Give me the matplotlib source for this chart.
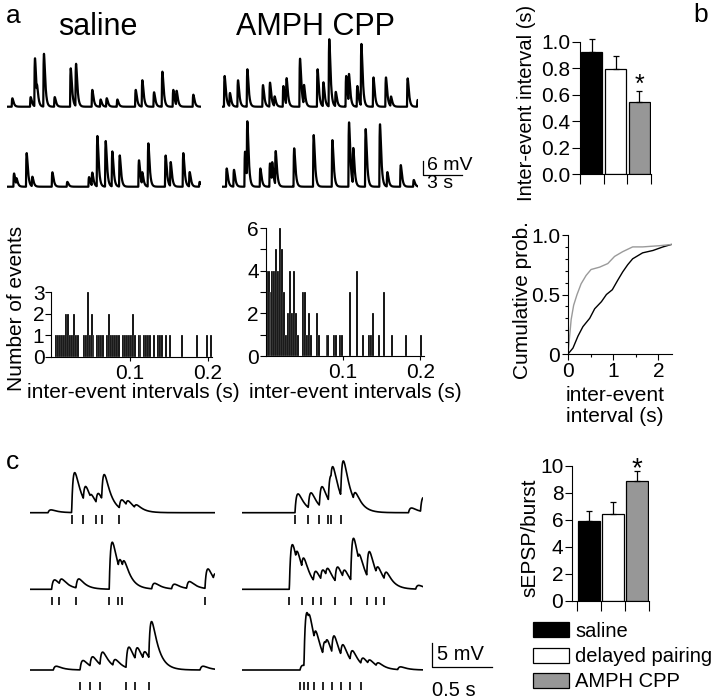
import numpy as np
import matplotlib
matplotlib.use("Agg")
import matplotlib.pyplot as plt
from matplotlib.patches import Patch
from matplotlib.ticker import MultipleLocator

plt.rcParams['font.family'] = ['Liberation Sans', 'DejaVu Sans']
plt.rcParams['font.size'] = 15
plt.rcParams['axes.linewidth'] = 0.8

W, H = 720, 699

# ---- a: spontaneous recordings, event times (s) and peak amplitudes (mV)
SAL1_T = [0.36, 1.77, 2.10, 2.28, 2.79, 3.62, 4.85, 5.26, 6.51, 7.15, 7.62, 8.44,
          9.85, 10.36, 11.26, 11.90, 12.74, 13.0, 14.28]
SAL1_A = [3.5, 4, 20, 4, 22, 4, 16, 17.6, 7, 3, 3.5, 3, 7, 11, 6, 14.6, 7, 6, 5]
SAL2_T = [0.49, 0.69, 1.46, 1.9, 3.44, 4.59, 6.26, 6.51, 6.9, 7.54, 8.05, 8.62,
          10.1, 10.36, 10.82, 12.15, 12.54, 13.51, 14.0, 14.77]
SAL2_A = [5.5, 2.5, 14, 4, 6, 2, 4, 5.5, 21, 19, 14.6, 13, 11, 5, 18, 13, 10, 14, 6, 2]
AMPH1_T = [0.15, 0.56, 1.18, 1.9, 3.1, 3.64, 4.0, 4.67, 4.92, 5.95, 6.26, 7.3,
           7.75, 8.2, 8.7, 9.5, 9.72, 10.36, 10.67, 11.6, 12.56, 12.95, 14.23, 15.0]
AMPH1_A = [12.8, 5.5, 11, 15.6, 9, 10, 4, 8.6, 11, 20, 8, 15.6, 10, 28, 6, 12.8,
           11.8, 8.6, 25.7, 12.2, 12.2, 4, 11.8, 2.8]
AMPH2_T = [0.31, 0.87, 1.72, 1.9, 2.9, 3.64, 3.82, 4.08, 5.5, 7.0, 8.44, 9.72,
           10.05, 11.0, 12.1, 12.67, 13.7, 14.7]
AMPH2_A = [7.6, 7, 14.6, 24, 7.6, 9.7, 8, 14, 16, 21.5, 19.4, 26.8, 15, 24, 26, 6, 9, 2.8]

# ---- a: inter-event interval histograms (bin width 2.5 ms, counts per bin)
BIN_W = 0.0025
SAL_COUNTS = [0, 0, 1, 1, 1, 1, 1, 2, 2, 1, 1, 2, 1, 1, 0, 0, 1, 1, 3, 1,
              2, 1, 0, 1, 1, 1, 1, 0, 1, 2, 1, 1, 1, 1, 1, 0, 1, 1, 1, 1,
              1, 2, 1, 0, 1, 1, 0, 1, 1, 1, 1, 0, 1, 0, 1, 1, 1, 0, 1, 0,
              1, 0, 0, 0, 0, 0, 1, 0, 0, 0, 0, 0, 0, 0, 1, 0, 0, 0, 0, 1,
              0, 1]
AMPH_COUNTS = [4, 4, 3, 4, 4, 5, 4, 6, 5, 3, 1, 2, 4, 2, 4, 2, 1, 0, 0, 3,
               3, 1, 2, 1, 0, 0, 2, 1, 0, 0, 0, 1, 1, 0, 0, 1, 1, 0, 1, 1,
               0, 0, 0, 3, 0, 0, 0, 4, 0, 0, 1, 0, 0, 1, 1, 2, 0, 0, 1, 0,
               0, 3, 0, 0, 0, 1, 0, 0, 0, 0, 0, 0, 1, 0, 0, 0, 0, 0, 0, 0,
               1, 0]

# ---- b: group data
GROUPS = ['saline', 'delayed pairing', 'AMPH CPP']
GROUP_COLORS = ['black', 'white', '#979797']
IEI_MEAN = [0.92, 0.795, 0.545]
IEI_SEM = [0.10, 0.095, 0.085]
CUM_X = [0, 0.07, 0.125, 0.2, 0.29, 0.40, 0.51, 0.70, 0.88, 1.03, 1.21, 1.43,
         1.65, 2.02, 2.28]
CUM_AMPH = [0, 0.29, 0.41, 0.50, 0.59, 0.66, 0.71, 0.73, 0.76, 0.82, 0.86, 0.90,
            0.90, 0.91, 0.92]
CUM_X2 = [0, 0.11, 0.22, 0.33, 0.48, 0.59, 0.74, 0.85, 0.98, 1.10, 1.21, 1.32,
          1.43, 1.65, 1.88, 2.1, 2.28]
CUM_SAL = [0, 0.05, 0.15, 0.23, 0.30, 0.38, 0.44, 0.50, 0.54, 0.62, 0.69, 0.75,
           0.80, 0.85, 0.87, 0.90, 0.92]

# ---- c: bursts, event times (s), amplitudes (mV), detected sEPSP marks (s)
C_L1_T = [0.15, 0.347, 0.444, 0.50, 0.55, 0.597, 0.744, 0.80, 0.87]
C_L1_A = [0.6, 8.5, 3.5, 1.0, 2.5, 6.0, 2.0, 1.2, 0.8]
C_L1_MARKS = [0.347, 0.444, 0.55, 0.597, 0.744]
C_L2_T = [0.18, 0.244, 0.383, 0.66, 0.736, 0.77, 1.014, 1.18, 1.305, 1.458, 1.528]
C_L2_A = [2.0, 1.3, 2.0, 10.0, 2.5, 2.0, 1.2, 1.0, 1.5, 4.2, 1.5]
C_L2_MARKS = [0.18, 0.244, 0.383, 0.66, 0.736, 0.77, 1.458]
C_L3_T = [0.194, 0.417, 0.5, 0.583, 0.69, 0.8, 0.875, 0.94, 0.99, 1.417]
C_L3_A = [0.8, 2.0, 2.2, 3.0, 1.5, 4.5, 3.0, 2.0, 8.5, 0.8]
C_L3_MARKS = [0.417, 0.5, 0.583, 0.8, 0.875, 0.99]
C_R1_T = [0.444, 0.555, 0.647, 0.722, 0.744, 0.825, 0.93, 1.39, 1.49]
C_R1_A = [4.0, 3.5, 4.5, 6.0, 3.0, 8.5, 2.0, 1.0, 3.0]
C_R1_MARKS = [0.444, 0.555, 0.647, 0.722, 0.744, 0.825]
C_R2_T = [0.397, 0.45, 0.5, 0.597, 0.658, 0.70, 0.778, 0.84, 0.908, 0.97, 1.042,
          1.119, 1.186, 1.45]
C_R2_A = [9.5, 2.5, 3.0, 2.5, 2.5, 2.0, 3.5, 2.0, 9.5, 2.0, 6.0, 2.0, 2.0, 0.8]
C_R2_MARKS = [0.397, 0.5, 0.597, 0.658, 0.778, 0.908, 1.042, 1.119, 1.186]
C_R3_T = [0.486, 0.519, 0.555, 0.603, 0.675, 0.70, 0.75, 0.825, 0.903, 0.992,
          1.05, 1.12, 1.3]
C_R3_A = [1.0, 11.5, 2.0, 3.0, 3.5, 1.5, 4.5, 3.0, 2.5, 1.5, 1.0, 0.8, 0.6]
C_R3_MARKS = [0.486, 0.519, 0.555, 0.603, 0.675, 0.75, 0.825, 0.903, 0.992]

EPSP_PER_BURST = [5.9, 6.43, 8.89]
EPSP_SEM = [0.78, 0.9, 0.74]


fig = plt.figure(figsize=(W / 100, H / 100), dpi=100)


def px_axes(x0, y0, x1, y1):
    """Axes from pixel box (top-left origin)."""
    ax = fig.add_axes([x0 / W, 1 - y1 / H, (x1 - x0) / W, (y1 - y0) / H])
    ax.set_facecolor('none')
    return ax


def px_text(x, y, s, **kw):
    kw.setdefault('ha', 'center')
    kw.setdefault('va', 'center')
    fig.text(x / W, 1 - y / H, s, **kw)


def epsp_sum(t, times, amps, tr, td):
    tp = tr * td / (td - tr) * np.log(td / tr)
    norm = np.exp(-tp / td) - np.exp(-tp / tr)
    v = np.zeros_like(t)
    for ti, a in zip(times, amps):
        dt = t - ti
        m = dt > 0
        v[m] += a * (np.exp(-dt[m] / td) - np.exp(-dt[m] / tr)) / norm
    return v


def trace_axes(x0, base_y, dur, px_s, px_mv, lo, hi):
    ax = px_axes(x0, base_y - hi * px_mv, x0 + dur * px_s, base_y - lo * px_mv)
    ax.set_xlim(0, dur)
    ax.set_ylim(lo, hi)
    ax.axis('off')
    return ax


def style_spines(ax):
    ax.spines['top'].set_visible(False)
    ax.spines['right'].set_visible(False)


# ---------------- panel a traces ----------------
A_PXS, A_PXMV = 13.0, 2.4
for x0, dur, rows in [(7, 14.9, [(106.7, SAL1_T, SAL1_A), (186.7, SAL2_T, SAL2_A)]),
                      (222, 15.1, [(106.7, AMPH1_T, AMPH1_A), (186.7, AMPH2_T, AMPH2_A)])]:
    for base, tt, aa in rows:
        ax = trace_axes(x0, base, dur, A_PXS, A_PXMV, -3, 32)
        t = np.arange(0, dur, 0.005)
        ax.plot(t, epsp_sum(t, tt, aa, 0.035, 0.09), color='black', lw=1.6)
        last = ax

# scale bar (6 mV, 3 s) beside the AMPH trace
last.plot([15.44, 15.44, 18.44], [10.7, 4.7, 4.7], color='black', lw=0.9, clip_on=False)
last.text(15.8, 9.0, '6 mV', fontsize=14, ha='left', va='center', clip_on=False)
last.text(15.8, 1.2, '3 s', fontsize=14, ha='left', va='center', clip_on=False)

px_text(13, 16, 'a', fontsize=19)
px_text(98, 27, 'saline', fontsize=22)
px_text(315, 27, 'AMPH CPP', fontsize=22)

# ---------------- panel a histograms ----------------
for (x0, y0, x1, y1), counts, ymax, ymaj in [((51.4, 292, 212, 357), SAL_COUNTS, 3, 1),
                                             ((265.7, 228, 424, 356), AMPH_COUNTS, 6, 2)]:
    ax = px_axes(x0, y0, x1, y1)
    c = np.array(counts)
    left = np.arange(len(c)) * BIN_W
    keep = c > 0
    ax.bar(left[keep], c[keep], width=BIN_W, align='edge', color='black',
           edgecolor='white', linewidth=0.15)
    ax.set_xlim(0, 0.205)
    ax.set_ylim(0, ymax)
    ax.set_xticks([0.1, 0.2], ['0.1', '0.2'])
    ax.yaxis.set_major_locator(MultipleLocator(ymaj))
    ax.yaxis.set_minor_locator(MultipleLocator(1))
    ax.tick_params(axis='y', which='both', length=4, width=0.8, pad=1, labelsize=15)
    ax.tick_params(axis='x', length=3, width=0.8, pad=2, labelsize=15)
    style_spines(ax)
    for s in ax.spines.values():
        s.set_zorder(5)

px_text(133, 393, 'inter-event intervals (s)', fontsize=15)
px_text(355, 393, 'inter-event intervals (s)', fontsize=15)
px_text(17, 308, 'Number of events', fontsize=15, rotation=90)

# ---------------- panel b: mean inter-event interval ----------------
ax = px_axes(580, 41.7, 651, 174.3)
xs = np.arange(len(GROUPS))
ax.bar(xs, IEI_MEAN, width=0.9, color=GROUP_COLORS, edgecolor='black', linewidth=0.9)
ax.errorbar(xs, IEI_MEAN, yerr=[np.zeros(3), IEI_SEM], fmt='none', ecolor='black',
            elinewidth=0.9, capsize=2.5, capthick=0.9, clip_on=False)
ax.text(2, 0.625, '*', fontsize=18, ha='center', va='baseline')
ax.set_xlim(-0.5, 2.5)
ax.set_ylim(0, 1.0)
ax.set_xticks([-0.5, 0.5, 1.5, 2.5], [])
ax.set_yticks(np.arange(0, 1.01, 0.2), ['0.0', '0.2', '0.4', '0.6', '0.8', '1.0'])
ax.tick_params(axis='x', length=7, width=0.8)
ax.tick_params(axis='y', length=6, width=0.8, pad=1, labelsize=15)
style_spines(ax)
px_text(701, 15, 'b', fontsize=19)
px_text(526, 103, 'Inter-event interval (s)', fontsize=14.5, rotation=90)

# ---------------- panel b: cumulative distributions ----------------
ax = px_axes(568, 235, 672, 354)
ax.plot(CUM_X2, CUM_SAL, color='black', lw=1.0)
ax.plot(CUM_X, CUM_AMPH, color='#9a9a9a', lw=1.0)
ax.set_xlim(0, 2.3)
ax.set_ylim(0, 1.0)
ax.set_xticks([0, 1, 2], ['0', '1', '2'])
ax.set_yticks([0, 0.5, 1.0], ['0', '0.5', '1.0'])
ax.xaxis.set_minor_locator(MultipleLocator(0.5))
ax.yaxis.set_minor_locator(MultipleLocator(0.1))
ax.tick_params(which='major', length=4, width=0.8, pad=1.5, labelsize=15)
ax.tick_params(which='minor', length=2.5, width=0.8)
style_spines(ax)
px_text(522, 300, 'Cumulative prob.', fontsize=15, rotation=90)
px_text(615, 406, 'inter-event\ninterval (s)', fontsize=15, linespacing=1.15)

# ---------------- panel c traces ----------------
C_PXS, C_PXMV = 120.0, 4.7
MARK_TOP = [-0.5, -1.6, -2.5]
MARK_LEN = 1.8
c_cols = [(30, 1.54, [(C_L1_T, C_L1_A, C_L1_MARKS), (C_L2_T, C_L2_A, C_L2_MARKS),
                      (C_L3_T, C_L3_A, C_L3_MARKS)]),
          (241.7, 1.51, [(C_R1_T, C_R1_A, C_R1_MARKS), (C_R2_T, C_R2_A, C_R2_MARKS),
                         (C_R3_T, C_R3_A, C_R3_MARKS)])]
for x0, dur, rows in c_cols:
    for r, (base, (tt, aa, mk)) in enumerate(zip([512.7, 589.3, 670.0], rows)):
        ax = trace_axes(x0, base, dur, C_PXS, C_PXMV, -6, 15)
        t = np.arange(0, dur, 0.002)
        ax.plot(t, epsp_sum(t, tt, aa, 0.014, 0.055), color='black', lw=1.2)
        ax.vlines(mk, MARK_TOP[r] - MARK_LEN, MARK_TOP[r], color='black', lw=1.2)
        last = ax

# scale bar (5 mV, 0.5 s)
last.plot([1.583, 1.583, 2.083], [5.7, 0.7, 0.7], color='black', lw=0.9, clip_on=False)
last.text(1.627, 3.2, '5 mV', fontsize=14.5, ha='left', va='center', clip_on=False)
last.text(1.587, -4.3, '0.5 s', fontsize=14.5, ha='left', va='center', clip_on=False)
px_text(13, 462, 'c', fontsize=19)

# ---------------- panel c: sEPSP per burst ----------------
ax = px_axes(571.7, 465.7, 649, 601)
ax.bar(xs, EPSP_PER_BURST, width=0.92, color=GROUP_COLORS, edgecolor='black', linewidth=0.9)
ax.errorbar(xs, EPSP_PER_BURST, yerr=[np.zeros(3), EPSP_SEM], fmt='none', ecolor='black',
            elinewidth=0.9, capsize=2.5, capthick=0.9, clip_on=False)
ax.text(2, 9.25, '*', fontsize=20, ha='center', va='baseline')
ax.set_xlim(-0.72, 2.5)
ax.set_ylim(0, 10)
ax.set_xticks([-0.5, 0.5, 1.5, 2.5], [])
ax.set_yticks(np.arange(0, 11, 2))
ax.tick_params(axis='x', length=7, width=0.8)
ax.tick_params(axis='y', length=5, width=0.8, pad=1, labelsize=15)
style_spines(ax)
px_text(530, 538, 'sEPSP/burst', fontsize=15, rotation=90)

handles = [Patch(facecolor=c, edgecolor='black', linewidth=0.9) for c in GROUP_COLORS]
fig.legend(handles, GROUPS, loc='upper left', bbox_to_anchor=(533 / W, 1 - 622 / H),
           frameon=False, fontsize=14.5, handlelength=1.8, handleheight=0.77,
           handletextpad=0.3, labelspacing=0.3, borderpad=0, borderaxespad=0)

fig.savefig('out.png', dpi=100)
